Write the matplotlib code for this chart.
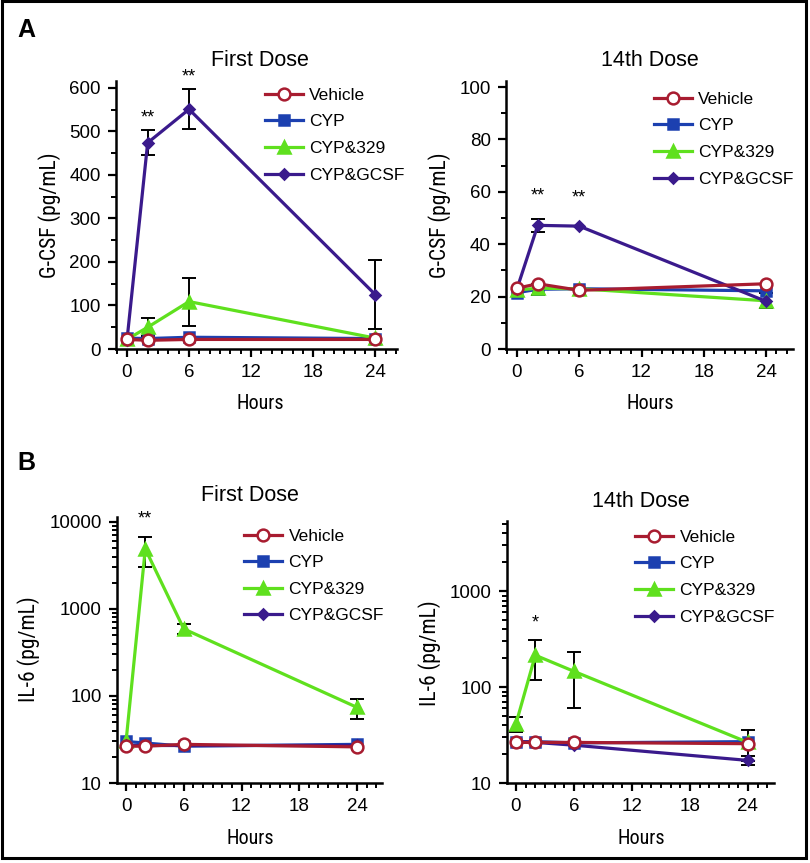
# G-CSF and IL-6 time courses, first dose vs 14th dose

import matplotlib
matplotlib.use("Agg")
import matplotlib.pyplot as plt
from matplotlib.lines import Line2D
from matplotlib.patches import Rectangle
from matplotlib.ticker import MultipleLocator, LogLocator
import numpy as np

plt.rcParams['font.family'] = ['Liberation Sans', 'DejaVu Sans']
NARROW = ['Roboto Condensed', 'Liberation Sans Narrow', 'DejaVu Sans']

hours = [0, 2, 6, 24]
groups = ["Vehicle", "CYP", "CYP&329", "CYP&GCSF"]

# panel A, first dose, G-CSF (pg/mL)
gcsf1_vehicle = [22, 20, 22, 22]
gcsf1_cyp = [25, 24, 27, 24]
gcsf1_329 = [22, 50, 109, 25]
gcsf1_gcsf = [20, 474, 551, 125]
gcsf1_err_329 = [0, 21, 55, 0]
gcsf1_err_gcsf = [0, 29, 46, 80]

# panel A, 14th dose, G-CSF (pg/mL)
gcsf14_vehicle = [23.2, 24.9, 22.4, 24.9]
gcsf14_cyp = [21.5, 22.8, 23.0, 22.2]
gcsf14_329 = [22.5, 23.2, 23.0, 18.4]
gcsf14_gcsf = [23.0, 47.2, 46.9, 18.2]
gcsf14_err_cyp = [0, 2.2, 0, 0]
gcsf14_err_329 = [0, 0, 0, 2.8]
gcsf14_err_gcsf = [0, 2.6, 0, 0]

# panel B, first dose, IL-6 (pg/mL)
il6_1_vehicle = [26.5, 26.5, 27.8, 26.0]
il6_1_cyp = [30, 28.8, 26.5, 27.8]
il6_1_329 = [30, 4900, 590, 74]
il6_1_gcsf = [27, 27, 27, 27]
il6_1_err_329 = [0, 1900, 80, 19]

# panel B, 14th dose, IL-6 (pg/mL)
il6_14_vehicle = [26.5, 26.5, 26.5, 25.7]
il6_14_cyp = [27, 27, 26.2, 27]
il6_14_329 = [41.5, 215, 146, 26.5]
il6_14_gcsf = [27, 26.5, 24.8, 17.2]
il6_14_err_329 = [7.5, 95, 85, 9.5]
il6_14_err_gcsf = [0, 0, 0, 1.8]

colors = {"Vehicle": "#a81c30", "CYP": "#1c40b0", "CYP&329": "#5fe01e", "CYP&GCSF": "#3a1a8c"}
markers = {"Vehicle": ("o", 8.5), "CYP": ("s", 7), "CYP&329": ("^", 8), "CYP&GCSF": ("D", 5.5)}

W, H = 810, 863
fig = plt.figure(figsize=(W / 100, H / 100), dpi=100)


def px_axes(x0, x1, ytop, ybot):
    return fig.add_axes([x0 / W, 1 - ybot / H, (x1 - x0) / W, (ybot - ytop) / H])


def draw_panel(ax, series, errs, log=False):
    order = ["CYP", "CYP&329", "Vehicle", "CYP&GCSF"]
    zs = {"CYP": 3, "CYP&329": 4, "Vehicle": 6, "CYP&GCSF": 5}
    for g in order:
        y = series[g]
        m, ms = markers[g]
        face = "white" if g == "Vehicle" else colors[g]
        ax.plot(hours, y, color=colors[g], lw=2.3, marker=m, ms=ms,
                mfc=face, mec=colors[g], mew=1.8, zorder=zs[g], clip_on=False)
        if g in errs:
            e = errs[g]
            idx = [i for i in range(len(hours)) if e[i] > 0]
            ax.errorbar([hours[i] for i in idx], [y[i] for i in idx],
                        yerr=[e[i] for i in idx], fmt="none", ecolor="black",
                        elinewidth=1.4, capsize=5, capthick=1.4, zorder=2)
    ax.spines["top"].set_visible(False)
    ax.spines["right"].set_visible(False)
    ax.spines["left"].set_linewidth(1.8)
    ax.spines["bottom"].set_linewidth(1.8)
    ax.set_xticks([0, 6, 12, 18, 24])
    ax.xaxis.set_minor_locator(MultipleLocator(1))
    if log:
        ax.set_yscale("log")
        ax.yaxis.set_minor_locator(LogLocator(base=10, subs=np.arange(2, 10)))
    ax.tick_params(axis="both", which="major", direction="out", length=6,
                   width=1.6, labelsize=13.5, pad=5)
    ax.tick_params(axis="both", which="minor", direction="out", length=3.5, width=1.4)


def add_legend(ax, x, y):
    handles = []
    for g in groups:
        m, ms = markers[g]
        face = "white" if g == "Vehicle" else colors[g]
        handles.append(Line2D([], [], color=colors[g], lw=2.3, marker=m, ms=ms,
                              mfc=face, mec=colors[g], mew=1.8))
    ax.legend(handles, groups, loc="upper left", bbox_to_anchor=(x, y), frameon=False,
              fontsize=12.5, handlelength=2.2, handletextpad=0.35, labelspacing=0.66,
              borderpad=0, borderaxespad=0)


# A, first dose
ax1 = px_axes(116, 397, 81, 349)
draw_panel(ax1, {"Vehicle": gcsf1_vehicle, "CYP": gcsf1_cyp, "CYP&329": gcsf1_329,
                 "CYP&GCSF": gcsf1_gcsf},
           {"CYP&329": gcsf1_err_329, "CYP&GCSF": gcsf1_err_gcsf})
ax1.set_xlim(-1.06, 26.1)
ax1.set_ylim(0, 616)
ax1.set_yticks(range(0, 601, 100))
ax1.yaxis.set_minor_locator(MultipleLocator(50))
add_legend(ax1, 0.53, 0.975)
ax1.text(2, 531, "**", ha="center", va="center", fontsize=13)
ax1.text(6, 626, "**", ha="center", va="center", fontsize=13)

# A, 14th dose
ax2 = px_axes(506, 793, 81, 349)
draw_panel(ax2, {"Vehicle": gcsf14_vehicle, "CYP": gcsf14_cyp, "CYP&329": gcsf14_329,
                 "CYP&GCSF": gcsf14_gcsf},
           {"CYP": gcsf14_err_cyp, "CYP&329": gcsf14_err_329, "CYP&GCSF": gcsf14_err_gcsf})
ax2.set_xlim(-1.06, 26.6)
ax2.set_ylim(0, 102.3)
ax2.set_yticks(range(0, 101, 20))
ax2.yaxis.set_minor_locator(MultipleLocator(10))
add_legend(ax2, 0.515, 0.96)
ax2.text(2, 58.5, "**", ha="center", va="center", fontsize=13)
ax2.text(6, 57.5, "**", ha="center", va="center", fontsize=13)

# B, first dose
ax3 = px_axes(117, 382, 517, 783)
draw_panel(ax3, {"Vehicle": il6_1_vehicle, "CYP": il6_1_cyp, "CYP&329": il6_1_329,
                 "CYP&GCSF": il6_1_gcsf},
           {"CYP&329": il6_1_err_329}, log=True)
ax3.set_xlim(-0.94, 26.6)
ax3.set_ylim(10, 11400)
ax3.set_yticks([10, 100, 1000, 10000])
ax3.set_yticklabels(["10", "100", "1000", "10000"])
add_legend(ax3, 0.48, 0.957)
ax3.text(2, 10800, "**", ha="center", va="center", fontsize=13)

# B, 14th dose
ax4 = px_axes(507, 774, 521, 783)
draw_panel(ax4, {"Vehicle": il6_14_vehicle, "CYP": il6_14_cyp, "CYP&329": il6_14_329,
                 "CYP&GCSF": il6_14_gcsf},
           {"CYP&329": il6_14_err_329, "CYP&GCSF": il6_14_err_gcsf}, log=True)
ax4.set_xlim(-0.93, 26.7)
ax4.set_ylim(10, 5400)
ax4.set_yticks([10, 100, 1000])
ax4.set_yticklabels(["10", "100", "1000"])
add_legend(ax4, 0.48, 0.967)
ax4.text(2, 470, "*", ha="center", va="center", fontsize=13)


def ftext(x, y, s, **kw):
    fig.text(x / W, 1 - y / H, s, ha="center", va="center", **kw)


ftext(260, 61, "First Dose", fontsize=15.5)
ftext(650, 61, "14th Dose", fontsize=15.5)
ftext(250, 495, "First Dose", fontsize=15.5)
ftext(641, 501, "14th Dose", fontsize=15.5)

for x, y in [(260, 403), (650, 403), (250, 838), (641, 838)]:
    ftext(x, y, "Hours", fontsize=14.5, family=NARROW, fontstretch="condensed")
for x, y, s in [(50, 215, "G-CSF (pg/mL)"), (440, 215, "G-CSF (pg/mL)"),
                (29, 649, "IL-6 (pg/mL)"), (430, 653, "IL-6 (pg/mL)")]:
    ftext(x, y, s, fontsize=15.5, rotation=90, family=NARROW, fontstretch="condensed")

ftext(26, 30, "A", fontsize=18, fontweight="bold")
ftext(26, 463, "B", fontsize=18, fontweight="bold")

# outer frame
fig.patches.append(Rectangle((1.5 / W, 5.5 / H), 804 / W, 856 / H, transform=fig.transFigure,
                             fill=False, edgecolor="black", lw=2.2))

fig.savefig("out.png", dpi=100)
